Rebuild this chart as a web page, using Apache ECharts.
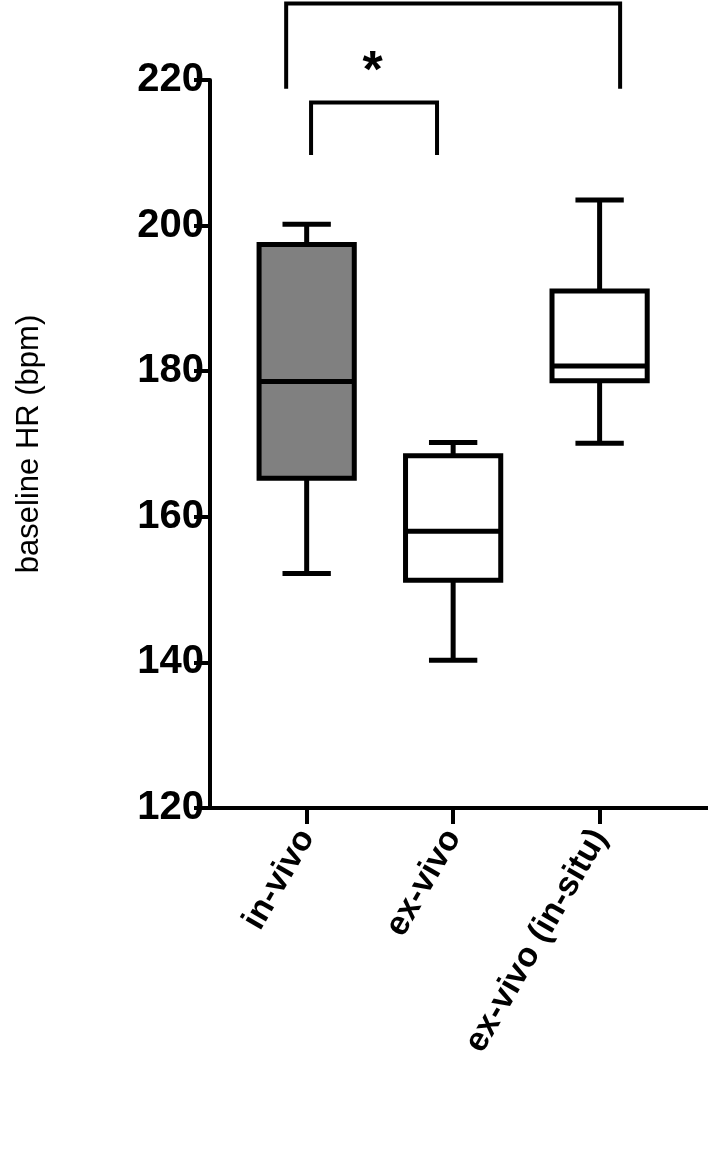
<!DOCTYPE html>
<html><head><meta charset="utf-8">
<script src="https://cdn.jsdelivr.net/npm/echarts@6/dist/echarts.min.js"></script>
<style>html,body{margin:0;padding:0;background:#fff}#c{width:708px;height:1157px}</style>
</head><body><div id="c"></div>
<script>
const categories = ['in-vivo', 'ex-vivo', 'ex-vivo (in-situ)'];
const mins    = [152.2, 140.3, 170.1];
const q1s     = [165.3, 151.3, 178.7];
const medians = [178.6, 158.0, 180.7];
const q3s     = [197.4, 168.4, 191.0];
const maxs    = [200.2, 170.2, 203.5];
const fills   = ['#808080', '#ffffff', '#ffffff'];
const yTicks  = [120, 140, 160, 180, 200, 220];
// significance brackets: [x1, x2, yTop, yEnd]
const brackets = [[-0.14, 2.14, 230.5, 218.8], [0.03, 0.89, 216.9, 209.7]];
const stars = [[0.45, 221.0, '*']];

const boxData = categories.map((c, i) => [i, mins[i], q1s[i], medians[i], q3s[i], maxs[i]]);
const BW = 0.65, CW = 0.33, LW = 5;

const chart = echarts.init(document.getElementById('c'));
chart.setOption({
  animation: false,
  grid: {left: 210, right: 0, top: 80, bottom: 349},
  xAxis: {
    type: 'value', min: -0.66, max: 2.74,
    splitLine: {show: false},
    axisLine: {onZero: false, lineStyle: {color: '#000', width: 4}},
    axisTick: {customValues: [0, 1, 2], length: 16, lineStyle: {color: '#000', width: 4}},
    axisLabel: {customValues: [0, 1, 2], formatter: v => categories[Math.round(v)],
      rotate: 60, margin: 24, color: '#000', fontSize: 34, fontWeight: 'bold',
      fontFamily: 'Liberation Sans'}
  },
  yAxis: {
    type: 'value', min: 120, max: 220, interval: 20,
    splitLine: {show: false},
    axisLine: {show: true, onZero: false, lineStyle: {color: '#000', width: 4}},
    axisTick: {show: true, length: 16, lineStyle: {color: '#000', width: 4}},
    axisLabel: {color: '#000', fontSize: 40, fontWeight: 'bold', margin: 6,
      fontFamily: 'Liberation Sans', formatter: v => yTicks.includes(v) ? String(v) : ''},
    name: 'baseline HR (bpm)', nameLocation: 'middle', nameGap: 165, nameRotate: 90,
    nameTextStyle: {color: '#000', fontSize: 31, fontFamily: 'Liberation Sans'}
  },
  series: [{
    type: 'custom', clip: false, data: boxData,
    renderItem: (params, api) => {
      const i = api.value(0);
      const w = api.size([BW, 0])[0], cw = api.size([CW, 0])[0];
      const p = k => api.coord([i, api.value(k)]);
      const pMin = p(1), pQ1 = p(2), pMed = p(3), pQ3 = p(4), pMax = p(5);
      const x = pMin[0];
      const ls = {stroke: '#000', lineWidth: LW};
      return {type: 'group', children: [
        {type: 'line', shape: {x1: x, y1: pMax[1], x2: x, y2: pQ3[1]}, style: ls},
        {type: 'line', shape: {x1: x, y1: pQ1[1], x2: x, y2: pMin[1]}, style: ls},
        {type: 'line', shape: {x1: x - cw/2, y1: pMax[1], x2: x + cw/2, y2: pMax[1]}, style: ls},
        {type: 'line', shape: {x1: x - cw/2, y1: pMin[1], x2: x + cw/2, y2: pMin[1]}, style: ls},
        {type: 'rect', shape: {x: x - w/2, y: pQ3[1], width: w, height: pQ1[1] - pQ3[1]},
          style: {fill: fills[i], stroke: '#000', lineWidth: LW}},
        {type: 'line', shape: {x1: x - w/2, y1: pMed[1], x2: x + w/2, y2: pMed[1]}, style: ls}
      ]};
    }
  }, {
    type: 'custom', clip: false, data: brackets,
    renderItem: (params, api) => {
      const a = api.coord([api.value(0), api.value(2)]);
      const b = api.coord([api.value(1), api.value(3)]);
      return {type: 'polyline', shape: {points: [[a[0], b[1]], [a[0], a[1]], [b[0], a[1]], [b[0], b[1]]]},
        style: {stroke: '#000', lineWidth: 4, fill: null}};
    }
  }, {
    type: 'custom', clip: false, data: stars,
    renderItem: (params, api) => {
      const a = api.coord([api.value(0), api.value(1)]);
      return {type: 'text', x: a[0], y: a[1], style: {text: stars[params.dataIndex][2],
        fontSize: 52, fontWeight: 'bold', fontFamily: 'Liberation Sans', fill: '#000',
        align: 'center', verticalAlign: 'middle'}};
    }
  }]
});
</script></body></html>
